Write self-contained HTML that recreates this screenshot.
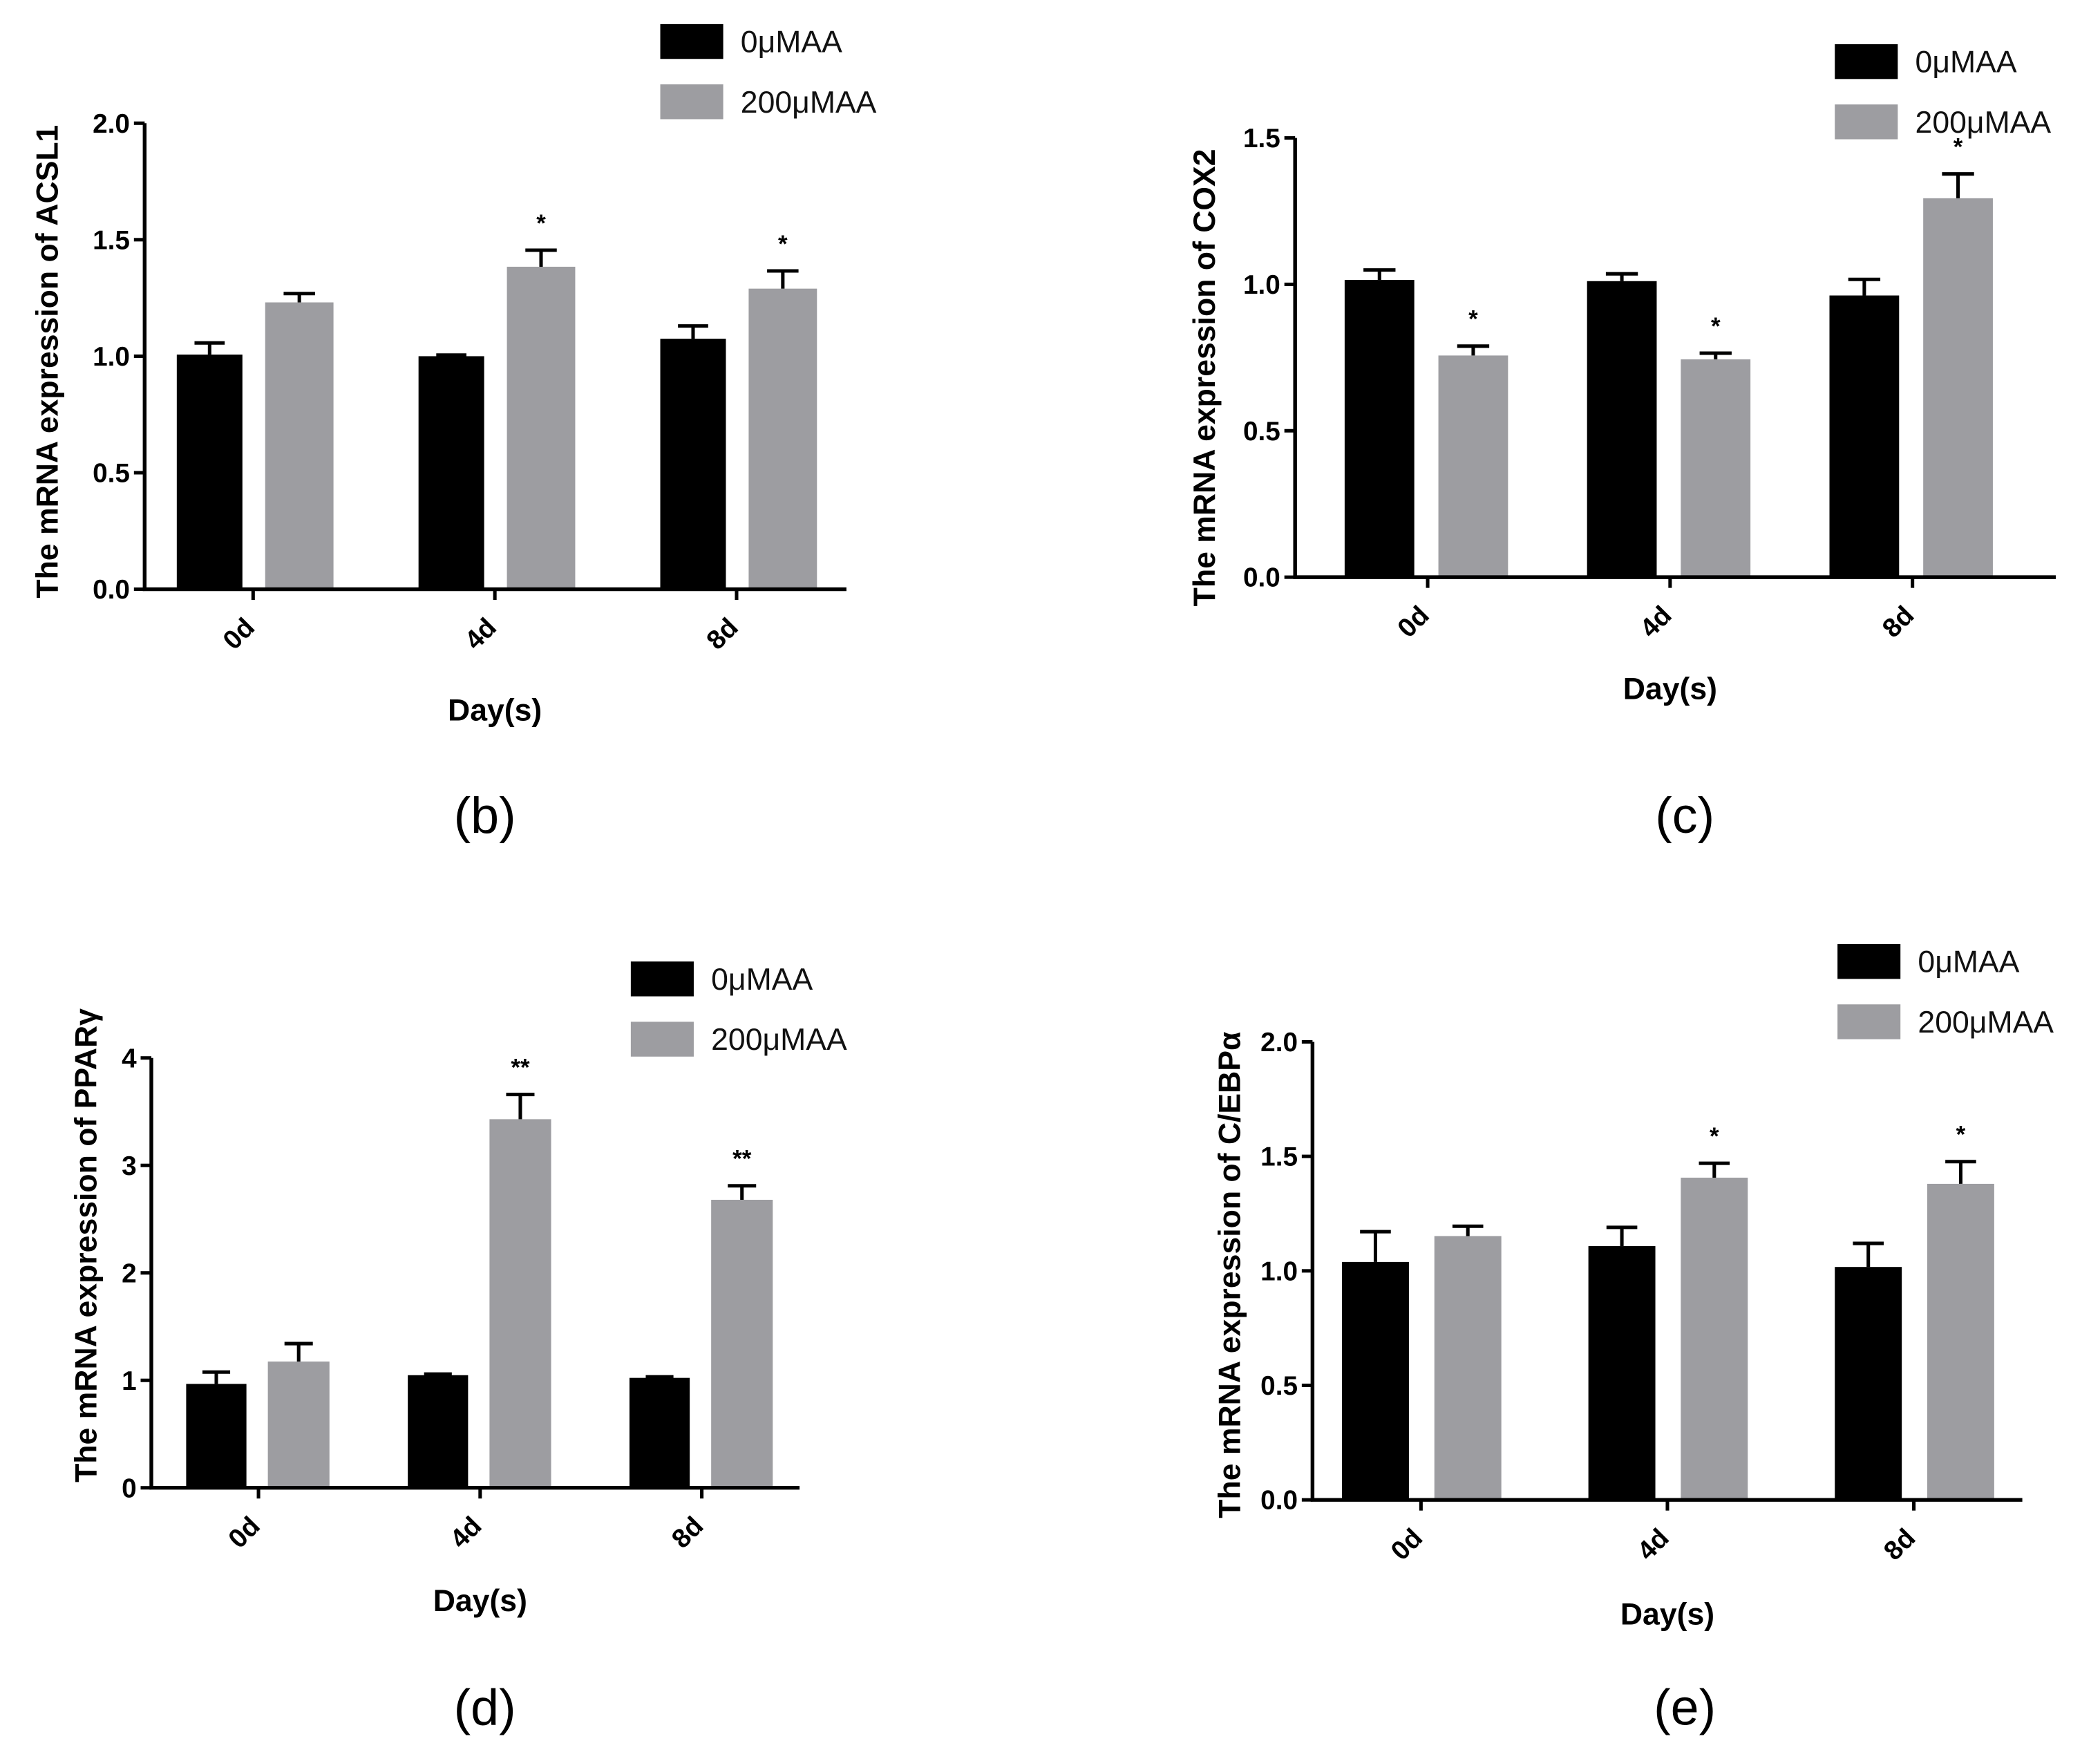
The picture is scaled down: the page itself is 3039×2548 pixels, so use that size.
<!DOCTYPE html>
<html><head><meta charset="utf-8"><style>
html,body{margin:0;padding:0;background:#fff;}
svg{display:block;}
text{font-family:"Liberation Sans",Arial,sans-serif;}
</style></head>
<body>
<svg id="fig" width="3039" height="2548" viewBox="0 0 1568 1315" preserveAspectRatio="none" xmlns="http://www.w3.org/2000/svg"></svg>
<script>
const categories = ["0d","4d","8d"];
const seriesNames = ["0μMAA","200μMAA"];
// Panel b: ACSL1
const acslCtrl = [1.007, 1.0, 1.075];
const acslCtrlErr = [0.05, 0.005, 0.055];
const acslTreat = [1.231, 1.384, 1.29];
const acslTreatErr = [0.038, 0.071, 0.076];
const acslSig = ["", "*", "*"];
const acslTicks = ["0.0","0.5","1.0","1.5","2.0"];
// Panel c: COX2
const coxCtrl = [1.015, 1.011, 0.962];
const coxCtrlErr = [0.034, 0.025, 0.055];
const coxTreat = [0.757, 0.744, 1.294];
const coxTreatErr = [0.032, 0.021, 0.083];
const coxSig = ["*", "*", "*"];
const coxTicks = ["0.0","0.5","1.0","1.5"];
// Panel d: PPARγ
const pparCtrl = [0.967, 1.048, 1.023];
const pparCtrlErr = [0.11, 0.01, 0.01];
const pparTreat = [1.175, 3.43, 2.68];
const pparTreatErr = [0.167, 0.23, 0.13];
const pparSig = ["", "**", "**"];
const pparTicks = ["0","1","2","3","4"];
// Panel e: C/EBPα
const cebpCtrl = [1.039, 1.108, 1.017];
const cebpCtrlErr = [0.132, 0.082, 0.103];
const cebpTreat = [1.152, 1.407, 1.38];
const cebpTreatErr = [0.043, 0.063, 0.097];
const cebpSig = ["", "*", "*"];
const cebpTicks = ["0.0","0.5","1.0","1.5","2.0"];

const NS = "http://www.w3.org/2000/svg";
const svg = document.getElementById("fig");
function mk(tag, attrs, parent){
  const e = document.createElementNS(NS, tag);
  for (const k in attrs) e.setAttribute(k, attrs[k]);
  (parent||svg).appendChild(e);
  return e;
}

function panel(p){
  const g = mk("g", {});
  
  
  const ymax = parseFloat(p.ticks[p.ticks.length-1]);
  const yS = v => p.y0 - (v / ymax) * (p.y0 - p.yTop);
  const xS = i => p.tick0 + i * p.step;
  for (let i = 0; i < categories.length; i++) {
    const c = xS(i);
    const sets = [
      [p.ctrl[i], p.ctrlErr[i], c + p.bOff[0], c + p.bOff[1], "#000", "control"],
      [p.treat[i], p.treatErr[i], c + p.gOff[0], c + p.gOff[1], "#9d9da1", "treated"]
    ];
    sets.forEach((s, k) => {
      const top = yS(s[0]);
      const r = mk("rect", {x: s[2], y: top, width: s[3]-s[2], height: p.y0 - top, fill: s[4]}, g);
      
      
      const cx = (s[2]+s[3])/2, ey = yS(s[0]+s[1]), hw = (s[3]-s[2])*0.23;
      const eb = mk("path", {d: `M${cx} ${top}V${ey}M${cx-hw} ${ey}H${cx+hw}`, stroke: "#000", "stroke-width": 2.6, fill: "none"}, g);
      
      
      if (k === 1 && p.sig[i]) {
        const st = mk("text", {x: cx, y: ey - 14, "text-anchor": "middle", "font-size": 18, "font-weight": "bold"}, g);
        st.textContent = p.sig[i];
        
        
      }
    });
    const tk = mk("line", {x1: c, x2: c, y1: p.y0, y2: p.y0 + 8, stroke: "#000", "stroke-width": 2.6}, g);
    
    
    const lx = c - 6, ly = p.y0 + 38;
    const tl = mk("text", {x: lx, y: ly, "text-anchor": "middle", "font-size": 20, "font-weight": "bold", transform: `rotate(-45 ${lx} ${ly})`}, g);
    tl.textContent = categories[i];
    
    
  }
  const ax = mk("path", {d: `M${p.x0} ${p.yTop}V${p.y0}H${p.xEnd}`, stroke: "#000", "stroke-width": 2.8, fill: "none"}, g);
  
  
  p.ticks.forEach(t => {
    const y = yS(parseFloat(t));
    const l = mk("line", {x1: p.x0 - 8, x2: p.x0, y1: y, y2: y, stroke: "#000", "stroke-width": 2.6}, g);
    
    
    const tt = mk("text", {x: p.x0 - 11, y: y + 7, "text-anchor": "end", "font-size": 20, "font-weight": "bold"}, g);
    tt.textContent = t;
    
    
  });
  const yt = mk("text", {x: p.ylx, y: p.yly, "text-anchor": "middle", "font-size": 23, "font-weight": "bold", transform: `rotate(-90 ${p.ylx} ${p.yly})`}, g);
  yt.textContent = p.ytitle;
  
  
  const xt = mk("text", {x: xS(1), y: p.dayY, "text-anchor": "middle", "font-size": 23, "font-weight": "bold"}, g);
  xt.textContent = "Day(s)";
  
  
  const pl = mk("text", {x: p.lblX, y: p.lblY, "text-anchor": "middle", "font-size": 38}, g);
  pl.textContent = p.label;
  
  
  const cols = ["#000", "#9d9da1"];
  seriesNames.forEach((n, k) => {
    const ly = p.legY + k * 45;
    const sw = mk("rect", {x: p.legX, y: ly, width: 47, height: 26, fill: cols[k]}, g);
    
    
    const lt = mk("text", {x: p.legX + 60, y: ly + 21, "font-size": 23, fill: "#111"}, g);
    lt.textContent = n;
    
    
  });
}

panel({id:"acsl1", x0:108, xEnd:632, y0:440, yTop:92, tick0:189, step:180.5, bOff:[-57,-8], gOff:[9,60],
  ctrl:acslCtrl, ctrlErr:acslCtrlErr, treat:acslTreat, treatErr:acslTreatErr, sig:acslSig, ticks:acslTicks,
  ytitle:"The mRNA expression of ACSL1", ylx:43, yly:270, dayY:538, label:"(b)", lblX:362, lblY:622, legX:493, legY:18});
panel({id:"cox2", x0:967, xEnd:1535, y0:431, yTop:103, tick0:1066, step:181, bOff:[-62,-10], gOff:[8,60],
  ctrl:coxCtrl, ctrlErr:coxCtrlErr, treat:coxTreat, treatErr:coxTreatErr, sig:coxSig, ticks:coxTicks,
  ytitle:"The mRNA expression of COX2", ylx:907, yly:282, dayY:522, label:"(c)", lblX:1258, lblY:622, legX:1370, legY:33});
panel({id:"pparg", x0:113, xEnd:597, y0:1111, yTop:790, tick0:193, step:165.5, bOff:[-54,-9], gOff:[7,53],
  ctrl:pparCtrl, ctrlErr:pparCtrlErr, treat:pparTreat, treatErr:pparTreatErr, sig:pparSig, ticks:pparTicks,
  ytitle:"The mRNA expression of PPARγ", ylx:72, yly:930, dayY:1203, label:"(d)", lblX:362, lblY:1288, legX:471, legY:718});
panel({id:"cebpa", x0:980, xEnd:1510, y0:1120, yTop:778, tick0:1061, step:184, bOff:[-59,-9], gOff:[10,60],
  ctrl:cebpCtrl, ctrlErr:cebpCtrlErr, treat:cebpTreat, treatErr:cebpTreatErr, sig:cebpSig, ticks:cebpTicks,
  ytitle:"The mRNA expression of C/EBPα", ylx:926, yly:952, dayY:1213, label:"(e)", lblX:1258, lblY:1288, legX:1372, legY:705});
</script>
</body></html>
